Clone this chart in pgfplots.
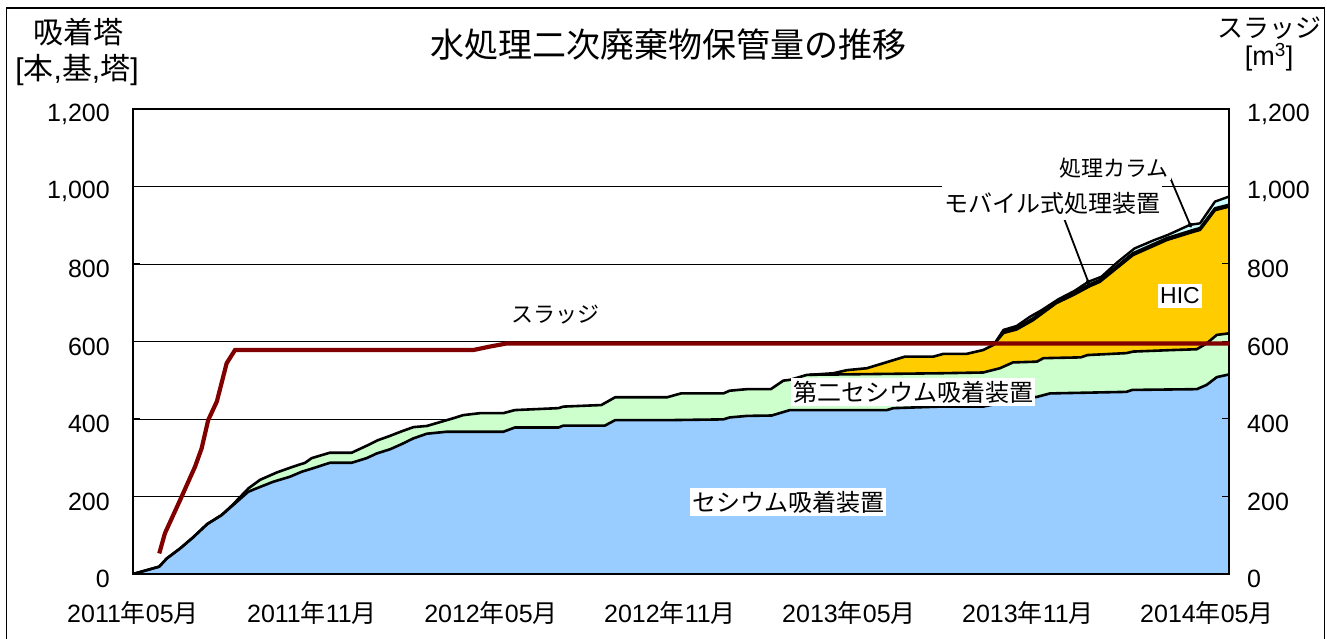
\documentclass[border=0pt]{standalone}
\usepackage{fontspec}
\setmainfont{Liberation Sans}
\newfontfamily\jp{Noto Sans CJK JP}
\usepackage{pgfplots}
\pgfplotsset{compat=1.18}
\usepackage{pgfplotstable}
\usetikzlibrary{arrows.meta}
\definecolor{csblue}{RGB}{153,204,255}
\definecolor{csgreen}{RGB}{204,255,204}
\definecolor{hicorange}{RGB}{255,204,0}
\definecolor{colcyan}{RGB}{204,255,255}
\definecolor{sludge}{RGB}{128,0,0}
\newcommand\YM[2]{#1{\jp 年}#2{\jp 月}}

\pgfplotstableread{
m v
0 0
0.88 19
1.13 40
1.58 66
2.02 95
2.49 129
2.97 152
3.36 178
3.86 212
4.14 221
4.70 238
5.26 251
5.66 264
6.04 273
6.60 287
7.33 287
7.83 299
8.17 311
8.62 322
9.00 335
9.40 350
9.85 362
10.5 367
12.41 367
12.80 378
14.26 378
14.43 383
15.82 383
16.16 397
17.90 397
19.79 399
20.00 404
20.58 408
21.41 409
22.02 423
25.27 423
25.49 428
27.05 432
28.50 432
29.06 441
29.60 452
30.30 457
30.74 466
33.30 470
33.50 475
35.66 477
35.99 488
36.33 508
36.74 515
}\tblblue

\pgfplotstableread{
m v
0 0
0.88 19
1.13 40
1.58 66
2.02 95
2.49 129
2.97 152
3.36 180
3.87 221
4.26 243
4.82 262
5.37 277
5.77 287
5.99 299
6.60 313
7.33 313
7.89 333
8.20 345
8.60 356
9.00 368
9.40 379
9.85 382
10.74 402
11.07 410
11.63 415
12.41 415
12.80 423
14.26 428
14.43 432
15.70 436
16.16 456
17.90 456
18.37 466
19.79 466
20.00 473
20.58 477
21.38 477
21.80 499
22.02 501
22.60 514
27.05 518
28.50 520
29.06 531
29.50 546
30.30 548
30.52 557
31.77 559
32.00 565
33.30 570
33.53 574
34.87 578
35.66 580
35.99 595
36.33 617
36.74 621
}\tblgreen

\pgfplotstableread{
m v
22.70 514
23.48 518
23.93 526
24.60 531
25.88 561
26.83 561
27.16 568
27.94 568
28.50 578
28.84 591
29.18 622
29.62 631
30.17 655
30.95 699
31.52 720
32.08 743
32.41 754
33.52 823
34.66 862
35.54 883
35.77 888
36.27 939
36.74 948
}\tblhic

\pgfplotstableread{
m v
28.84 591
29.18 626
29.62 636
30.17 660
30.95 704
31.52 725
32.08 748
32.41 759
33.52 828
34.66 867
35.54 888
35.77 893
36.27 944
36.74 953
}\tblmobile

\pgfplotstableread{
m v
28.84 591
28.96 604
29.18 630
29.62 640
30.07 664
30.46 681
31.02 709
31.57 731
32.02 754
32.46 767
33.02 806
33.57 840
34.24 862
34.69 875
35.43 901
35.77 905
36.27 961
36.74 974
}\tblcol

\pgfplotstableread{
m v
0.88 53
1.07 105
1.58 191
2.08 277
2.30 324
2.52 397
2.81 445
3.14 544
3.42 578
11.41 578
11.97 587
12.53 595
36.74 595
}\tblsludge

\begin{document}
\begin{tikzpicture}[x=1pt,y=1pt]
\path[use as bounding box] (0,0) rectangle (1327,639);
\draw[line width=1.2pt] (6.5,0) -- (6.5,631) -- (1324.5,631) -- (1324.5,0);

\begin{axis}[
  at={(133pt,65pt)}, anchor=south west,
  scale only axis, width=1096pt, height=465pt,
  xmin=0, xmax=36.74, ymin=0, ymax=1200,
  xtick={0,6,12,18,24,30,36},
  xticklabels={\YM{2011}{05},\YM{2011}{11},\YM{2012}{05},\YM{2012}{11},\YM{2013}{05},\YM{2013}{11},\YM{2014}{05}},
  ytick={0,200,400,600,800,1000,1200},
  yticklabels={0,200,400,600,800,{1,000},{1,200}},
  tick align=inside, major tick length=7pt,
  xtick pos=left, ytick pos=left,
  ymajorgrids, grid style={black, line width=0.8pt},
  axis line style={line width=1.2pt},
  tick style={black, line width=1pt},
  xticklabel style={font=\fontsize{25}{30}\selectfont, anchor=center, yshift=-39pt, inner sep=0pt},
  yticklabel style={font=\fontsize{25}{30}\selectfont, anchor=east, xshift=-23pt, yshift=-5pt, inner sep=0pt},
]
\addplot[draw=none, fill=colcyan] table[x=m,y=v] {\tblcol} \closedcycle;
\addplot[draw=none, fill=white] table[x=m,y=v] {\tblmobile} \closedcycle;
\addplot[draw=none, fill=hicorange] table[x=m,y=v] {\tblhic} \closedcycle;
\addplot[draw=none, fill=csgreen] table[x=m,y=v] {\tblgreen} \closedcycle;
\addplot[draw=none, fill=csblue] table[x=m,y=v] {\tblblue} \closedcycle;
\addplot[black, line width=2.4pt, line join=round] table[x=m,y=v] {\tblcol};
\addplot[black, line width=2.4pt, line join=round] table[x=m,y=v] {\tblmobile};
\addplot[black, line width=2.6pt, line join=round] table[x=m,y=v] {\tblhic};
\addplot[black, line width=2.6pt, line join=round] table[x=m,y=v] {\tblgreen};
\addplot[black, line width=2.6pt, line join=round] table[x=m,y=v] {\tblblue};
\draw[line width=1.8pt, -{Circle[length=5pt]}] (axis cs:34.70,1035) -- (axis cs:35.47,895);
\draw[line width=1.8pt, -{Circle[length=5pt]}] (axis cs:31.14,932) -- (axis cs:32.05,748);
\end{axis}

\begin{axis}[
  at={(133pt,65pt)}, anchor=south west,
  scale only axis, width=1096pt, height=465pt,
  xmin=0, xmax=36.74, ymin=0, ymax=1200,
  axis x line=none, axis y line*=right,
  axis line style={-, line width=1.2pt},
  ytick={0,200,400,600,800,1000,1200},
  yticklabels={0,200,400,600,800,{1,000},{1,200}},
  ytick pos=right,
  tick align=inside, major tick length=7pt,
  tick style={black, line width=1pt},
  yticklabel style={font=\fontsize{25}{30}\selectfont, anchor=west, xshift=18pt, yshift=-5pt, inner sep=0pt},
]
\addplot[sludge, line width=4.2pt] table[x=m,y=v] {\tblsludge};
\end{axis}

\draw[line width=2.6pt] (133,65) -- (1229,65);

\node[font=\jp\fontsize{34}{36}\selectfont] at (668,594) {水処理二次廃棄物保管量の推移};
\node[font=\jp\fontsize{30}{34}\selectfont, inner sep=0pt] at (78,607) {吸着塔};
\node[font=\fontsize{30}{34}\selectfont, inner sep=0pt] at (77,569) {[{\jp 本},{\jp 基},{\jp 塔}]};
\node[font=\jp\fontsize{26}{30}\selectfont, inner sep=0pt] at (1269,611) {スラッジ};
\node[font=\fontsize{27}{31}\selectfont, inner sep=0pt] at (1269,582) {[m\textsuperscript{3}]};

\node[font=\jp\fontsize{22}{26}\selectfont] at (555,324) {スラッジ};
\node[font=\jp\fontsize{24}{28}\selectfont, fill=white, inner xsep=2pt, inner ysep=3pt] at (788,137) {セシウム吸着装置};
\node[font=\jp\fontsize{24}{28}\selectfont, fill=white, inner xsep=2pt, inner ysep=3pt] at (913,247) {第二セシウム吸着装置};
\node[font=\fontsize{23}{27}\selectfont, fill=white, inner xsep=2pt, inner ysep=4pt] at (1180,343) {HIC};
\node[font=\jp\fontsize{24}{28}\selectfont, fill=white, inner xsep=2pt, inner ysep=6pt] at (1052,436) {モバイル式処理装置};
\node[font=\jp\fontsize{22}{26}\selectfont, fill=white, inner sep=2pt] at (1114,471) {処理カラム};
\end{tikzpicture}
\end{document}
